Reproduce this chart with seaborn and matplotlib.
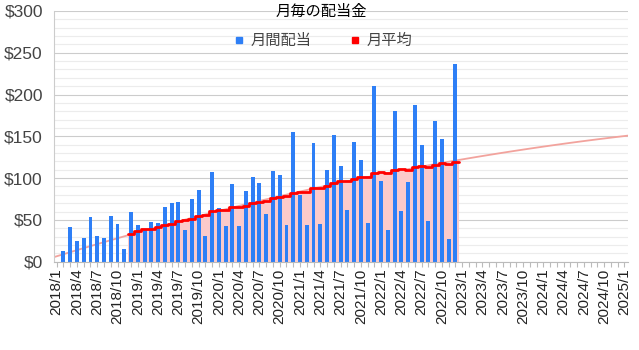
import numpy as np
import pandas as pd
import matplotlib
matplotlib.use("Agg")
import matplotlib.pyplot as plt
from matplotlib.lines import Line2D
from matplotlib.ticker import MultipleLocator
import seaborn as sns

# Monthly dividends (USD), one value per month starting 2018/2
first_paid = "2018-02"
dividends = [13, 41.5, 25, 28, 53.5, 30.5, 28, 55, 45, 15.5, 59,
             44.5, 38.5, 47.5, 46.5, 66, 70, 71.5, 38.5, 74.5, 86, 31,
             107, 64, 42.5, 93.5, 42.5, 84.5, 101, 94, 56.5, 108, 104,
             43.5, 155.5, 79.5, 43.5, 141.5, 45, 110, 151.5, 114.5, 61.5,
             143, 121.5, 46, 210, 96.5, 38.5, 180, 60.5, 95.5, 187.5,
             139.5, 48.5, 168, 147, 27.5, 236.5]

# Trailing 12-month average (USD), one value per month starting 2018/12
first_avg = "2018-12"
monthly_avg = [32.8, 36.5, 38.7, 39.2, 41.0, 44.1, 45.5, 48.9, 49.8, 51.4,
               54.8, 56.1, 60.1, 61.8, 62.1, 65.9, 65.6, 67.1, 69.7, 71.6,
               73.1, 75.9, 77.4, 78.4, 82.5, 83.8, 83.8, 87.8, 88.0, 90.2,
               94.4, 96.1, 96.5, 99.4, 100.9, 101.1, 105.6, 107.0, 106.6,
               109.8, 111.1, 109.9, 112.9, 115.0, 113.9, 116.0, 118.1,
               116.6, 118.8]

# Axis months 2018/1 .. 2025/1
axis_start, axis_end = "2018-01", "2025-01"
y_ticks = [0, 50, 100, 150, 200, 250, 300]

title = "月毎の配当金"
series_names = ["月間配当", "月平均"]

BAR_BLUE = "#2e7ff6"
AVG_RED = "#ff0000"
FILL_PINK = "#fccaca"
TREND = "#f2a39d"

sns.set_theme(style="white")
plt.rcParams["font.family"] = ["Liberation Sans", "Noto Sans CJK JP"]

axis_months = pd.date_range(axis_start, axis_end, freq="MS")
base = axis_months[0]


def month_index(dates):
    return [(d.year - base.year) * 12 + (d.month - base.month) for d in dates]


x_labels = [f"{d.year}/{d.month}" if i % 3 == 0 else ""
            for i, d in enumerate(axis_months)]
bar_x = month_index(pd.date_range(first_paid, periods=len(dividends), freq="MS"))
avg_x = month_index(pd.date_range(first_avg, periods=len(monthly_avg), freq="MS"))

fig = plt.figure(figsize=(6.39, 3.5), dpi=100)
ax = fig.add_axes([0.0845, 0.2523, 0.899, 0.7163])
xlim = (-0.4, len(axis_months) - 1 + 0.6)
ax.set_xlim(*xlim)
ax.set_ylim(0, 300)

# quadratic trend of the running average, extended over the full axis
sns.regplot(x=avg_x, y=monthly_avg, order=2, ci=None, scatter=False,
            truncate=False, ax=ax,
            line_kws=dict(color=TREND, lw=1.3, zorder=1))
ax.set_xlim(*xlim)

# stepped area for the running average, each step one month wide
step_x = [avg_x[0] - 0.5] + avg_x + [avg_x[-1] + 0.5]
step_y = [monthly_avg[0]] + monthly_avg + [monthly_avg[-1]]
ax.fill_between(step_x, step_y, step="mid", color=FILL_PINK, lw=0, zorder=1.5)

sns.barplot(x=bar_x, y=dividends, native_scale=True, width=0.58,
            color=BAR_BLUE, saturation=1, errorbar=None, linewidth=0,
            ax=ax, zorder=2)

sns.lineplot(x=step_x, y=step_y, drawstyle="steps-mid", color=AVG_RED,
             lw=2.0, ax=ax, zorder=3)

ax.set_xlim(*xlim)
ax.set_ylim(0, 300)
ax.set_xlabel("")
ax.set_ylabel("")

# axes, ticks and grid
ax.set_xticks(range(len(axis_months)))
ax.set_xticklabels(x_labels, rotation=90, fontsize=11, color="#222222")
ax.tick_params(axis="x", length=3.5, width=0.8, color="#bbbbbb", pad=1.5,
               bottom=True)
ax.set_yticks(y_ticks)
ax.set_yticklabels([f"${v}" for v in y_ticks], fontsize=12.5, color="#444444")
ax.yaxis.set_minor_locator(MultipleLocator(10))
ax.tick_params(axis="y", which="both", length=0, pad=8)
ax.set_axisbelow(True)
ax.grid(axis="y", which="major", color="#cccccc", lw=0.8)
ax.grid(axis="y", which="minor", color="#ececec", lw=0.8)
ax.grid(axis="x", which="both", visible=False)
for side in ("top", "right"):
    ax.spines[side].set_visible(False)
ax.spines["left"].set_color("#cccccc")
ax.spines["left"].set_linewidth(0.8)
ax.spines["bottom"].set_color("#bbbbbb")
ax.spines["bottom"].set_linewidth(0.8)

fig.text(0.503, 0.966, title, ha="center", va="center", fontsize=11,
         color="black")

handles = [Line2D([], [], marker="s", ls="", color=BAR_BLUE, ms=4.5),
           Line2D([], [], marker="s", ls="", color=AVG_RED, ms=4.5)]
fig.legend(handles, series_names, loc="center", bbox_to_anchor=(0.505, 0.883),
           ncol=2, frameon=False, fontsize=11, handlelength=0.8,
           handletextpad=0.4, columnspacing=2.4, labelcolor="#444444")

fig.savefig("out.png", dpi=100)
